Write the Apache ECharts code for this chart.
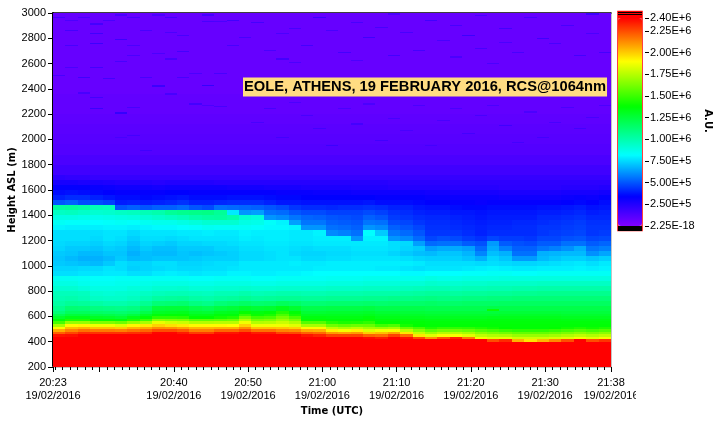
<!DOCTYPE html>
<html><head><meta charset="utf-8">
<style>html,body{margin:0;padding:0;background:#fff}#c{width:726px;height:431px}</style>
<script src="https://cdn.jsdelivr.net/npm/echarts@6/dist/echarts.min.js"></script></head>
<body><div id="c"></div>
<script>
// scan edges, in minutes after midnight UTC
const timeEdges=[1223.72,1225.39,1227.06,1228.73,1230.40,1232.07,1233.74,1235.41,1237.08,1238.75,1240.42,1242.09,1243.76,1245.43,1247.10,1248.77,1250.44,1252.11,1253.78,1255.45,1257.12,1258.79,1260.46,1262.13,1263.80,1265.47,1267.14,1268.81,1270.48,1272.15,1273.82,1275.49,1277.16,1278.83,1280.50,1282.17,1283.84,1285.51,1287.18,1288.85,1290.52,1292.19,1293.86,1295.53,1297.20,1298.87];
const heightEdges=[200,400,420,440,460,480,500,520,540,560,580,600,620,640,680,720,760,800,840,880,920,960,1000,1040,1080,1120,1160,1200,1240,1280,1320,1360,1400,1440,1480,1520,1560,1600,1640,1680,1720,1800,1880,1960,2040,2120,2200,2280,2360,2440,2520,2600,2680,2760,2840,2920,3000];
const xTickLabels={1223.72:'20:23',1240:'20:40',1250:'20:50',1260:'21:00',1270:'21:10',1280:'21:20',1290:'21:30',1298.87:'21:38'};
const xMajorTicks=[1223.72,1230,1240,1250,1260,1270,1280,1290,1298.87];
const dateLabel='19/02/2016';
const barTicks=[0,250000,500000,750000,1000000,1250000,1500000,1750000,2000000,2250000,2400000];
const barLabels=['2.25E-18','2.50E+5','5.00E+5','7.50E+5','1.00E+6','1.25E+6','1.50E+6','1.75E+6','2.00E+6','2.25E+6','2.40E+6'];
// range-corrected signal in units of 1e4 a.u., one profile per scan, rows from heightEdges upward
const c00=[240,240,240,236,221,206,191,172,152,136,128,120,112,107,102,99,97,92,88,85,76,74,72,71,72,74,75,76,76,80,84,88,95,103,50,40,36,33,28,22];
const c01=[240,240,240,237,226,214,203,191,168,144,133,125,118,113,105,100,97,92,88,85,76,74,71,69,71,72,74,76,76,79,83,88,96,104,52,42,37,33,28,21];
const c02=[240,240,240,240,231,218,205,192,168,144,133,125,118,112,104,98,96,90,86,84,77,75,70,67,69,72,74,76,76,79,83,87,94,102,48,42,36,33,27,21];
const c03=[240,240,240,240,230,216,202,187,163,139,130,123,116,110,102,95,92,88,85,83,77,75,69,67,69,71,73,75,76,79,82,86,92,98,48,40,35,32,27,20];
const c04=[240,240,240,240,230,216,202,187,163,139,129,122,115,109,100,94,91,88,85,83,78,77,72,69,71,73,75,77,77,80,83,87,93,97,46,38,34,31,26,20];
const c05=[240,240,240,240,230,215,200,183,160,136,127,120,114,108,100,94,92,88,86,84,78,76,76,72,71,72,74,76,77,80,84,88,95,50,39,36,33,30,25,20];
const c06=[240,240,240,240,231,218,205,192,168,144,133,124,116,110,102,96,93,90,86,84,76,73,74,69,67,69,71,73,75,79,83,89,96,52,40,36,33,30,25,20];
const c07=[240,240,240,240,232,220,207,194,172,150,137,130,122,115,106,99,95,90,87,84,76,74,74,70,70,72,74,76,77,80,85,91,98,50,39,35,33,30,25,20];
const c08=[240,240,240,240,239,225,212,199,185,166,147,136,130,125,112,103,97,92,88,84,78,75,76,71,69,70,73,76,77,81,86,93,100,52,40,36,33,29,24,20];
const c09=[240,240,240,240,239,225,211,196,181,164,147,137,131,126,113,104,98,92,88,84,79,76,76,71,69,70,72,75,77,81,86,95,105,52,41,37,34,30,25,20];
const c10=[240,240,240,240,235,222,208,194,179,163,146,137,132,126,114,105,98,93,88,84,78,75,74,71,71,72,74,76,78,82,88,97,107,54,43,38,34,30,25,20];
const c11=[240,240,240,240,228,215,204,191,174,157,138,133,128,122,110,102,97,91,87,83,77,75,74,72,70,72,74,77,78,83,90,100,108,50,40,36,33,30,25,20];
const c12=[240,240,240,240,228,215,204,191,174,157,138,133,127,120,108,101,96,91,87,83,78,76,75,73,71,72,75,77,79,85,92,102,109,48,40,36,33,30,25,20];
const c13=[240,240,240,240,236,220,205,191,175,158,142,136,131,124,112,103,98,92,88,84,78,76,76,73,72,74,75,77,78,84,92,103,105,55,41,36,33,30,24,20];
const c14=[240,240,240,240,236,220,205,190,175,160,145,136,132,126,114,104,98,92,88,84,80,77,76,73,73,74,76,77,78,84,92,100,78,54,42,37,33,29,24,20];
const c15=[240,240,240,240,239,225,212,199,187,174,161,148,139,129,116,106,100,93,88,84,80,78,78,75,75,76,77,79,80,84,88,92,62,53,42,37,33,29,24,20];
const c16=[240,240,240,240,235,218,202,187,174,162,151,140,135,127,114,104,98,92,87,83,79,78,78,75,75,76,77,78,79,83,87,90,64,52,42,37,33,29,24,20];
const c17=[240,240,240,240,235,218,202,187,175,164,153,143,137,128,115,105,99,92,87,83,79,78,78,76,76,77,78,79,79,81,83,62,55,50,40,36,33,28,24,20];
const c18=[240,240,240,240,227,214,201,187,179,170,162,153,145,132,118,106,100,93,88,84,80,78,78,77,77,77,78,79,79,81,80,60,54,48,38,35,32,28,24,20];
const c19=[240,240,240,240,226,213,199,184,174,163,153,142,137,128,116,106,100,93,88,84,80,78,79,77,75,76,77,78,78,80,64,56,50,44,38,35,32,28,24,20];
const c20=[240,240,240,236,221,206,191,172,155,139,135,131,127,122,113,105,99,93,88,84,81,78,78,75,74,75,77,78,78,62,56,53,48,42,37,34,32,27,24,20];
const c21=[240,240,240,233,219,205,191,172,155,139,135,131,127,122,113,105,99,93,88,84,82,79,78,75,74,76,78,79,80,62,56,52,48,42,37,34,31,27,24,20];
const c22=[240,240,240,227,210,193,177,161,146,137,134,131,128,123,114,106,100,94,89,85,82,79,79,76,75,76,78,79,60,55,52,50,46,41,37,34,31,27,24,20];
const c23=[240,240,240,227,208,188,173,158,143,137,134,131,128,123,114,106,100,94,89,85,82,79,79,76,75,76,78,79,58,54,51,49,46,42,37,34,31,27,24,20];
const c24=[240,240,240,227,210,193,176,160,144,137,134,131,128,123,114,106,100,94,89,85,82,79,79,77,76,77,78,62,55,52,50,48,46,42,37,34,30,26,24,20];
const c25=[240,240,238,221,200,183,171,159,147,139,136,132,129,124,115,107,101,95,90,86,82,79,79,77,76,77,78,80,82,62,56,52,48,43,38,34,30,26,24,20];
const c26=[240,240,235,219,203,187,169,151,138,136,133,130,127,122,114,107,101,95,90,86,82,78,79,77,76,77,78,80,72,60,55,50,46,42,36,33,30,26,24,20];
const c27=[240,240,240,227,208,188,171,154,138,136,133,130,127,122,115,108,101,95,90,86,82,78,79,77,74,76,76,62,56,52,48,45,43,40,36,33,30,25,23,20];
const c28=[240,240,237,219,195,176,159,142,137,135,132,129,126,122,115,108,102,96,91,86,81,77,79,76,72,74,75,60,54,50,47,44,42,40,36,33,30,25,23,20];
const c29=[240,240,226,195,178,165,152,138,137,135,132,129,126,122,115,109,103,97,91,86,81,76,78,74,70,72,64,54,50,47,44,42,40,38,35,33,30,25,23,20];
const c30=[240,240,211,184,170,157,144,137,136,134,131,128,125,121,116,110,104,98,93,88,82,77,76,73,69,64,54,47,44,43,42,41,39,37,34,32,29,25,23,20];
const c31=[240,240,223,189,175,161,148,137,136,134,131,128,125,121,115,109,104,98,92,87,82,77,76,73,71,66,55,49,44,43,42,41,39,37,34,32,29,25,23,20];
const c32=[240,240,233,189,175,161,148,137,136,134,131,128,125,121,115,109,103,97,92,87,82,77,76,73,71,66,55,48,44,42,41,40,38,36,33,31,28,24,22,20];
const c33=[240,240,216,184,172,159,147,137,136,134,131,128,125,121,116,110,104,98,93,88,83,78,76,71,68,64,51,45,42,41,40,39,38,35,33,31,28,24,22,20];
const c34=[240,240,188,177,166,155,144,137,136,134,131,128,125,121,116,110,104,98,93,88,83,79,75,67,59,54,49,43,40,40,39,38,37,35,32,31,28,24,22,20];
const c35=[240,225,184,174,163,152,141,137,136,135,132,128,125,122,116,111,105,99,94,88,84,80,76,74,70,66,63,47,42,41,40,39,38,36,33,31,28,24,22,20];
const c36=[240,232,185,173,161,149,138,137,136,135,132,129,126,122,117,111,105,99,94,89,84,79,75,71,67,58,51,45,42,41,40,39,38,36,33,30,27,23,22,20];
const c37=[240,205,180,169,158,147,137,137,136,135,132,129,126,122,117,112,106,100,94,89,83,78,74,63,55,52,49,45,42,42,41,39,38,36,33,30,27,23,22,20];
const c38=[240,195,180,169,158,147,137,137,136,135,132,129,126,122,117,112,106,100,94,89,83,78,74,63,55,52,48,44,42,42,41,39,38,36,33,30,27,23,22,20];
const c39=[240,204,180,169,158,147,137,137,136,135,132,129,126,122,117,112,107,101,95,89,84,79,75,69,67,56,51,47,44,44,42,41,39,37,33,30,27,23,22,20];
const c40=[240,213,182,171,160,149,138,137,136,135,132,129,126,122,117,112,107,101,95,89,84,79,76,71,68,58,51,47,45,44,43,41,39,37,33,30,27,23,22,20];
const c41=[240,225,184,174,163,152,141,137,136,134,131,128,125,122,117,112,107,101,95,89,84,79,77,73,69,61,55,49,46,45,44,42,40,38,34,31,28,24,22,20];
const c42=[240,240,188,177,166,155,144,137,136,134,131,128,125,122,117,112,107,101,95,89,84,80,78,73,69,66,55,50,47,46,45,43,41,39,35,32,28,24,22,20];
const c43=[240,225,184,174,163,152,141,137,136,134,131,128,125,122,117,112,107,101,95,89,84,79,76,71,61,56,51,47,44,44,43,41,39,37,34,31,28,24,22,20];
const c44=[240,230,188,177,166,155,144,137,136,134,131,128,125,122,117,112,107,101,95,89,84,80,78,73,65,58,53,48,45,44,43,41,40,38,36,33,29,25,22,20];
const profiles=[c00,c01,c02,c03,c04,c05,c06,c07,c08,c09,c10,c11,c12,c13,c14,c15,c16,c17,c18,c19,c20,c21,c22,c23,c24,c25,c26,c27,c28,c29,c30,c31,c32,c33,c34,c35,c36,c37,c38,c39,c40,c41,c42,c43,c44];
// shared free-troposphere rows above 1720 m
const aloft=[17,14,12,11,10,9,8,8,7,7,7,7,7,7,7,7];
// thin streaks: [scan, height, value]
const streaks=[[0,2962,15],[1,2936,14],[1,2857,16],[2,2962,14],[3,2909,16],[3,2830,17],[3,2751,18],[4,2936,15],[5,2980,15],[5,2785,18],[6,2962,15],[6,2738,14],[7,2857,15],[8,2980,14],[8,2672,14],[9,2962,16],[9,2843,14],[10,2817,15],[10,2690,16],[12,2980,16],[12,2928,15],[13,2928,14],[14,2936,17],[14,2738,15],[0,2500,15],[1,2566,14],[1,2738,15],[2,2487,17],[3,2566,16],[4,2479,16],[5,2611,15],[6,2659,14],[7,2487,15],[8,2421,18],[8,2672,14],[9,2632,15],[10,2487,15],[11,2514,14],[12,2421,20],[13,2514,15],[2,2363,15],[3,2329,16],[3,2237,18],[5,2205,20],[6,2250,15],[8,2416,18],[9,2355,15],[11,2276,16],[12,2263,14],[13,2258,15],[6,2026,16],[7,1907,17],[5,2013,15],[15,2804,15],[16,2922,16],[17,2698,15],[18,2830,14],[18,2632,16],[19,2870,15],[19,2606,14],[20,2738,16],[21,2962,18],[22,2857,15],[23,2685,16],[24,2917,15],[24,2619,14],[25,2804,17],[26,2883,15],[27,2988,14],[27,2659,16],[28,2843,15],[29,2698,16],[30,2936,17],[31,2777,15],[32,2896,15],[32,2646,14],[33,2817,18],[34,2975,15],[34,2712,15],[35,2593,14],[36,2870,16],[36,2764,14],[37,2685,15],[38,2962,15],[39,2796,17],[40,2751,15],[41,2896,15],[42,2659,16],[43,2988,18],[43,2830,14],[44,2685,16],[16,2131,15],[17,2237,15],[18,2013,16],[19,2290,14],[20,2184,15],[21,2079,16],[22,1947,18],[23,2237,14],[24,2118,16],[25,2276,14],[26,1986,17],[27,2158,15],[28,2065,15],[29,2263,14],[30,1947,16],[31,2145,15],[32,2237,14],[33,2039,16],[34,2184,15],[35,2263,14],[36,2105,17],[37,1973,16],[38,2211,14],[39,2013,16],[40,2131,15],[41,2250,14],[42,2079,16],[43,2171,15],[44,2263,14],[35,645,140]];
const streakDepth=10;

const UNIT=1e4;
const stops=[[0,[128,0,255]],[34,[0,0,255]],[82,[0,255,255]],[138,[0,255,0]],[190,[255,255,0]],[240,[255,0,0]]];
function ramp(){const out=[];for(let v=0;v<=240;v+=2){let k=0;while(k<stops.length-2&&v>stops[k+1][0])k++;const a=stops[k],b=stops[k+1],f=(v-a[0])/(b[0]-a[0]);out.push('rgb('+a[1].map((c,i)=>Math.round(c+(b[1][i]-c)*f)).join(',')+')');}return out;}

const cells=[];
profiles.forEach((p,i)=>{const full=p.concat(aloft);full.forEach((v,j)=>cells.push([timeEdges[i],timeEdges[i+1],heightEdges[j],heightEdges[j+1],v*UNIT]));});
streaks.forEach(s=>cells.push([timeEdges[s[0]],timeEdges[s[0]+1],s[1],s[1]+streakDepth,s[2]*UNIT]));

const minorTicks=[];for(let m=1224;m<=1298;m++)minorTicks.push(m);
const FONT='"Liberation Sans"';
function rectItem(params,api,fill){
  const a=api.coord([api.value(0),api.value(2)]),b=api.coord([api.value(1),api.value(3)]);
  const x=Math.round(a[0]),x2=Math.round(b[0]),y=Math.round(b[1]),y2=Math.round(a[1]);
  return {type:'rect',shape:{x:x,y:y,width:x2-x,height:Math.max(1,y2-y)},style:{fill:fill},silent:true};
}
const chart=echarts.init(document.getElementById('c'),null,{renderer:'canvas'});
chart.setOption({
  animation:false,backgroundColor:'#fff',
  title:{text:'EOLE, ATHENS, 19 FEBRUARY 2016, RCS@1064nm',left:243,top:78,padding:[2,1,2,1],backgroundColor:'#ffdc82',textStyle:{fontFamily:FONT,fontWeight:'bold',fontSize:14.7,color:'#000',lineHeight:14},z:10},
  grid:[{left:53,top:13,right:115,bottom:64,containLabel:false,outerBoundsMode:'none'},{left:618,top:11.5,width:24,height:219,show:true,borderColor:'#ff0000',borderWidth:1.5,backgroundColor:'transparent',outerBoundsMode:'none'}],
  xAxis:[
    {gridIndex:0,type:'value',position:'bottom',min:1223.72,max:1298.87,name:'Time (UTC)',nameLocation:'middle',nameGap:39,nameMoveOverlap:false,nameTextStyle:{fontFamily:'DejaVu Sans',fontWeight:'bold',fontSize:10,color:'#000'},
     splitLine:{show:false},axisLine:{onZero:false,lineStyle:{color:'#b0b0b0',width:1.5}},
     axisTick:{length:5,lineStyle:{color:'#000'},customValues:xMajorTicks},
     axisLabel:{margin:9,fontFamily:FONT,fontSize:11,color:'#000',lineHeight:13,hideOverlap:false,showMinLabel:true,showMaxLabel:true,customValues:Object.keys(xTickLabels).map(Number),formatter:v=>xTickLabels[v]+'\n'+dateLabel}},
    {gridIndex:0,type:'value',position:'bottom',min:1223.72,max:1298.87,splitLine:{show:false},axisLine:{show:false},axisLabel:{show:false},axisTick:{show:true,length:3,lineStyle:{color:'#000'},customValues:minorTicks}},
    {gridIndex:0,type:'value',position:'top',min:1223.72,max:1298.87,splitLine:{show:false},axisLabel:{show:false},axisTick:{show:false},axisLine:{onZero:false,lineStyle:{color:'#000',width:1.5}}},
    {gridIndex:1,type:'value',min:0,max:1,show:false}
  ],
  yAxis:[
    {gridIndex:0,type:'value',position:'left',min:200,max:3000,interval:200,name:'Height ASL (m)',nameLocation:'middle',nameGap:36,nameMoveOverlap:false,nameTextStyle:{fontFamily:'DejaVu Sans',fontWeight:'bold',fontSize:10,color:'#000'},
     splitLine:{show:false},axisLine:{onZero:false,lineStyle:{color:'#000',width:2}},axisTick:{length:5,lineStyle:{color:'#000'}},axisLabel:{margin:7,fontFamily:FONT,fontSize:11,color:'#000',formatter:v=>String(v)}},
    {gridIndex:0,type:'value',position:'right',min:200,max:3000,splitLine:{show:false},axisLabel:{show:false},axisTick:{show:false},axisLine:{onZero:false,lineStyle:{color:'#b0b0b0',width:1.5}}},
    {gridIndex:1,type:'value',position:'right',offset:3,min:-51900,max:2473000,name:'A.U.',nameLocation:'middle',nameGap:58,nameMoveOverlap:false,nameRotate:-90,nameTextStyle:{fontFamily:'DejaVu Sans',fontWeight:'bold',fontSize:10,color:'#000'},
     splitLine:{show:false},axisLine:{show:true,onZero:false,lineStyle:{color:'rgba(0,0,0,0)'}},axisTick:{show:true,length:4,lineStyle:{color:'#000',width:1},customValues:barTicks},
     axisLabel:{margin:5,fontFamily:FONT,fontSize:11,color:'#000',customValues:barTicks,formatter:v=>barLabels[barTicks.indexOf(v)]}}
  ],
  visualMap:{type:'continuous',seriesIndex:0,dimension:4,min:0,max:240*UNIT,left:618,top:18,itemWidth:24,itemHeight:208,padding:0,text:null,calculable:false,hoverLink:false,showLabel:false,inRange:{color:ramp()},z:1},
  series:[
    {type:'custom',name:'RCS@1064nm',coordinateSystem:'cartesian2d',xAxisIndex:0,yAxisIndex:0,encode:{x:[0,1],y:[2,3]},data:cells,progressive:0,silent:true,clip:true,z:1,
     renderItem:(params,api)=>rectItem(params,api,api.visual('color'))},
    {type:'custom',coordinateSystem:'cartesian2d',xAxisIndex:3,yAxisIndex:2,encode:{x:[0,1],y:[2,3]},silent:true,z:5,
     data:[[0,1,-51900,0,'#000'],[0,1,2400000,2433000,'#ff0000'],[0,1,2433000,2445000,'#000'],[0,1,2445000,2460000,'#ff0000'],[0,1,2460000,2473000,'#000']],
     renderItem:(params,api)=>rectItem(params,api,api.value(4))}
  ],
  graphic:[{type:'rect',shape:{x:636,y:385,width:20,height:16},style:{fill:'#fff'},z:100,silent:true}]
});
</script></body></html>
